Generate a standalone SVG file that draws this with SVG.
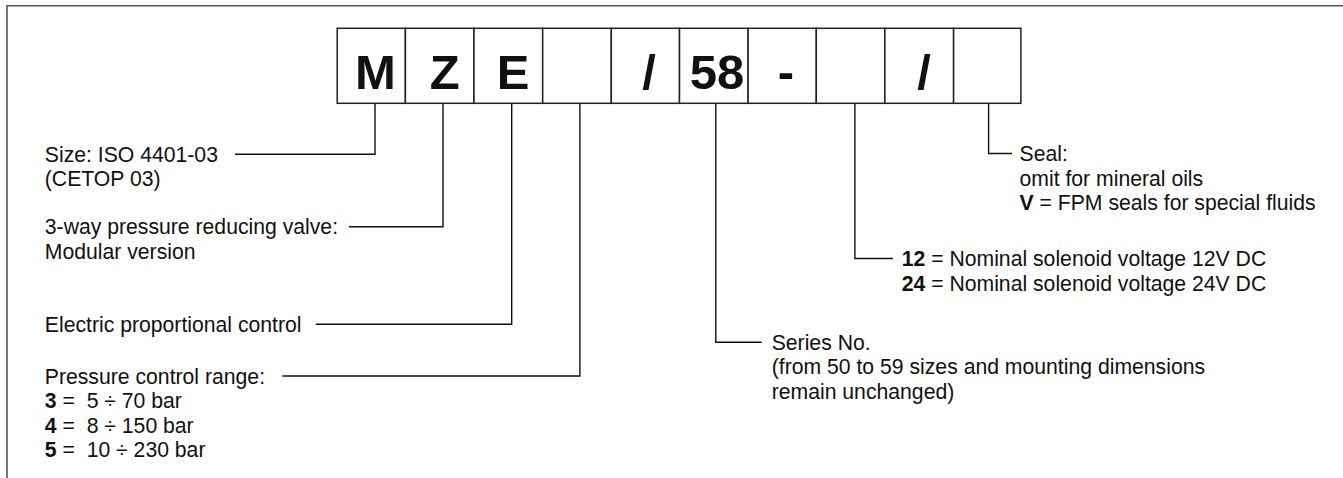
<svg xmlns="http://www.w3.org/2000/svg" width="1343" height="478" viewBox="0 0 1343 478">
<style>
.t{font-family:"Liberation Sans",Arial,sans-serif;font-size:21.2px;fill:#111}
.b{font-weight:bold}
.big{font-family:"Liberation Sans",Arial,sans-serif;font-size:49px;font-weight:bold;fill:#111;text-anchor:middle}
.box{fill:#fff;stroke:#222;stroke-width:1.5}
.ln{fill:none;stroke:#111;stroke-width:1.4}
.frame{fill:none;stroke:#555;stroke-width:1.6}
</style>
<rect width="1343" height="478" fill="#fff"/>
<path class="frame" d="M7,490 V5.7 H1360"/>
<g id="code">
<g id="box-M"><rect class="box" x="337.2" y="28.3" width="68.2" height="75"/><text class="big" x="375.4" y="88.5">M</text></g>
<g id="box-Z"><rect class="box" x="405.4" y="28.3" width="68.6" height="75"/><text class="big" x="444.7" y="88.5">Z</text></g>
<g id="box-E"><rect class="box" x="474" y="28.3" width="68.7" height="75"/><text class="big" x="513.1" y="88.5">E</text></g>
<g id="box-range"><rect class="box" x="542.7" y="28.3" width="68.6" height="75"/></g>
<g id="box-slash1"><rect class="box" x="611.3" y="28.3" width="68.2" height="75"/><text class="big" x="649" y="88.5">/</text></g>
<g id="box-58"><rect class="box" x="679.5" y="28.3" width="68.6" height="75"/><text class="big" x="717" y="88.5">58</text></g>
<g id="box-dash"><rect class="box" x="748.1" y="28.3" width="68.2" height="75"/><text class="big" x="786" y="88.5">-</text></g>
<g id="box-voltage"><rect class="box" x="816.3" y="28.3" width="68.6" height="75"/></g>
<g id="box-slash2"><rect class="box" x="884.9" y="28.3" width="68.7" height="75"/><text class="big" x="924" y="88.5">/</text></g>
<g id="box-seal"><rect class="box" x="953.6" y="28.3" width="67.3" height="75"/></g>
</g>
<g id="connectors">
<path class="ln" d="M375,103.3 V154.3 H235"/>
<path class="ln" d="M443,103.3 V226.7 H349"/>
<path class="ln" d="M511.7,103.3 V324.3 H315.7"/>
<path class="ln" d="M579.9,103.3 V376 H282.3"/>
<path class="ln" d="M715.8,103.3 V342.3 H761.7"/>
<path class="ln" d="M854.9,103.3 V258.5 H893"/>
<path class="ln" d="M988.6,103.3 V153.5 H1012"/>
</g>
<g id="label-size"><text class="t" x="44.8" y="161.7">Size: ISO 4401-03</text><text class="t" x="44.8" y="186.2">(CETOP 03)</text></g>
<g id="label-valve"><text class="t" x="44.8" y="234.3">3-way pressure reducing valve:</text><text class="t" x="44.8" y="258.8">Modular version</text></g>
<g id="label-control"><text class="t" x="44.8" y="331.9">Electric proportional control</text></g>
<g id="label-range">
<text class="t" x="44.8" y="383.6">Pressure control range:</text>
<text class="t" x="44.8" y="408.1" xml:space="preserve"><tspan class="b">3</tspan> =  5 ÷ 70 bar</text>
<text class="t" x="44.8" y="432.6" xml:space="preserve"><tspan class="b">4</tspan> =  8 ÷ 150 bar</text>
<text class="t" x="44.8" y="457.1" xml:space="preserve"><tspan class="b">5</tspan> =  10 ÷ 230 bar</text>
</g>
<g id="label-series">
<text class="t" x="771.7" y="349.9">Series No.</text>
<text class="t" x="771.7" y="374.4">(from 50 to 59 sizes and mounting dimensions</text>
<text class="t" x="771.7" y="398.9">remain unchanged)</text>
</g>
<g id="label-voltage">
<text class="t" x="901.7" y="266.1" xml:space="preserve"><tspan class="b">12</tspan> = Nominal solenoid voltage 12V DC</text>
<text class="t" x="901.7" y="290.6" xml:space="preserve"><tspan class="b">24</tspan> = Nominal solenoid voltage 24V DC</text>
</g>
<g id="label-seal">
<text class="t" x="1019.5" y="161.1">Seal:</text>
<text class="t" x="1019.5" y="185.6">omit for mineral oils</text>
<text class="t" x="1019.5" y="210.1" xml:space="preserve"><tspan class="b">V</tspan> = FPM seals for special fluids</text>
</g>
</svg>
